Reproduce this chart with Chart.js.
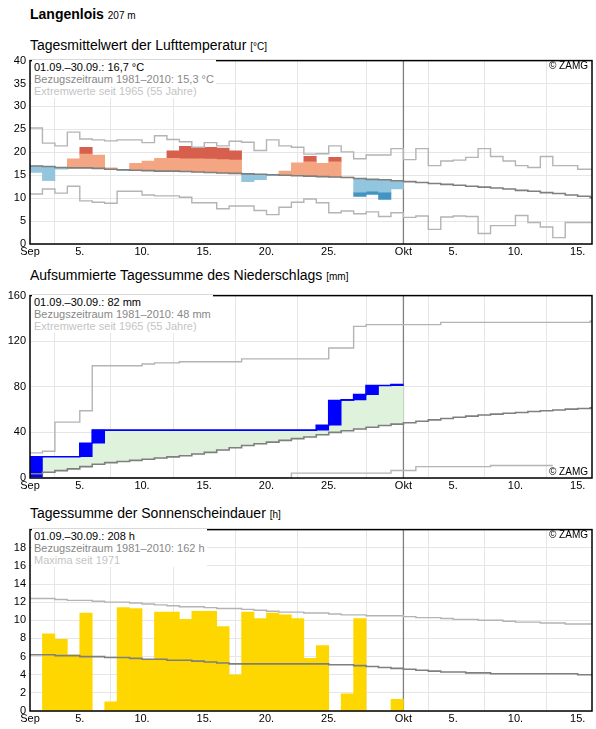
<!DOCTYPE html>
<html><head><meta charset="utf-8">
<script src="https://cdn.jsdelivr.net/npm/chart.js@4"></script>
<style>
body{margin:0;width:596px;height:729px;background:#fff;font-family:"Liberation Sans",Arial,sans-serif;position:relative;overflow:hidden}
.t{position:absolute;left:30px;font-size:14px;color:#000;white-space:nowrap}
.t small{font-size:10px}
.c{position:absolute;left:0;width:596px}
.lg{position:absolute;left:32px;background:#fff;font-size:11px;line-height:12px;padding:1px 2px;white-space:nowrap}
.z{position:absolute;font-size:10px;color:#000}
</style></head><body>
<div class="t" style="top:6px;font-weight:bold;font-size:14px">Langenlois <small style="font-weight:normal">207 m</small></div>
<div class="t" style="top:37px">Tagesmittelwert der Lufttemperatur <small>[°C]</small></div>
<div class="t" style="top:267px">Aufsummierte Tagessumme des Niederschlags <small>[mm]</small></div>
<div class="t" style="top:505px">Tagessumme der Sonnenscheindauer <small>[h]</small></div>
<div class="c" style="top:50px;height:212px"><canvas id="c1"></canvas></div>
<div class="c" style="top:285px;height:211px"><canvas id="c2"></canvas></div>
<div class="c" style="top:519px;height:210px"><canvas id="c3"></canvas></div>
<div class="lg" style="top:60px"><div>01.09.–30.09.: 16,7 °C</div><div style="color:#888">Bezugszeitraum 1981–2010: 15,3 °C</div><div style="color:#c4c4c4">Extremwerte seit 1965 (55 Jahre)</div></div>
<div class="lg" style="top:295px"><div>01.09.–30.09.: 82 mm</div><div style="color:#888">Bezugszeitraum 1981–2010: 48 mm</div><div style="color:#c4c4c4">Extremwerte seit 1965 (55 Jahre)</div></div>
<div class="lg" style="top:529px"><div>01.09.–30.09.: 208 h</div><div style="color:#888">Bezugszeitraum 1981–2010: 162 h</div><div style="color:#c4c4c4">Maxima seit 1971</div></div>
<div class="z" style="top:60px;right:8px">© ZAMG</div>
<div class="z" style="top:466px;right:8px">© ZAMG</div>
<div class="z" style="top:529px;right:8px">© ZAMG</div>
<script>
const xTickPos=[0,4,9,14,19,24,30,34,39,44];
const xTickLabels=['Sep','5.','10.','15.','20.','25.','Okt','5.','10.','15.'];
const monthBoundary=30;

const tempObs=[15.6,13.9,16.3,18.6,21.1,19.4,16.6,16.0,17.6,18.1,18.7,20.3,21.3,20.9,21.1,20.9,20.3,13.6,14.05,14.9,15.9,17.7,19.1,17.6,18.9,14.6,10.4,10.8,9.7,12.0];
const tempMean=[17.0,16.9,16.7,16.6,16.6,16.5,16.3,16.2,16.1,16.0,15.9,15.9,15.8,15.7,15.6,15.5,15.4,15.3,15.2,15.1,15.0,14.9,14.8,14.7,14.6,14.5,14.3,14.1,14.0,13.8,13.6,13.4,13.2,13.0,12.8,12.6,12.4,12.2,12.0,11.7,11.5,11.2,11.0,10.7,10.4,10.1];
const tempUpper=[20.0,19.9,19.7,19.6,19.6,19.5,19.3,19.2,19.1,19.0,18.9,18.7,18.6,18.6,18.5,18.4,18.3,18.2,18.1,18.0,17.9,17.9,17.9,17.8,17.9,17.8,17.6,17.4,17.3,17.1];
const tempLower=[14.0,14.0,13.8,13.6,13.5,13.4,13.3,13.2,13.1,13.0,12.9,12.8,12.7,12.6,12.5,12.4,12.3,12.2,12.1,12.0,11.9,11.8,11.7,11.6,11.5,11.4,11.3,11.5,11.3,11.1];
const tempMax=[25.3,22.0,21.4,24.4,22.9,22.7,22.5,22.7,22.7,22.1,23.6,22.8,22.3,21.1,22.1,21.4,22.4,22.2,20.4,22.7,21.4,21.1,19.6,19.7,21.4,20.1,18.6,19.4,19.4,20.8,18.4,20.8,17.1,18.1,18.3,18.9,20.8,19.1,18.1,17.1,16.7,19.1,17.1,17.1,16.3,16.3];
const tempMin=[10.9,12.0,11.1,12.6,9.4,9.1,8.9,11.5,11.5,10.7,10.5,10.5,10.2,9.0,9.0,7.7,8.3,8.3,7.3,6.4,8.0,9.1,9.8,9.0,6.8,7.2,6.6,7.0,6.0,6.8,5.8,6.1,3.2,5.9,6.1,6.0,2.3,4.0,4.0,6.2,4.7,3.7,1.4,4.7,4.7,4.7];

const precipDaily=[18.7,0,0,0,11.8,11.5,0,0,0,0,0,0,0,0,0,0,0,0,0,0,0,0,0,4.3,21.7,0.5,4.6,8.0,0,0.9];
const precipMean=[3.7,5.0,6.5,8.0,10.0,12.0,13.5,14.5,15.5,16.5,17.5,18.5,19.5,21,22.5,24.5,26.5,28.5,30,31.5,33,34.5,36,38,40,41.5,43,44.5,46,47.3,48.5,49.8,51,52.2,53.3,54.3,55.2,56,56.8,57.5,58.3,59,59.7,60.4,61,61.5];
const precipMax=[22,23.5,49,49,59,98.5,98.5,98.5,98.5,100,101,101,102,102,102,102,102,104.5,104.5,104.5,104.5,104.5,104.5,104.5,114,114,133,134.5,134.5,134.5,134.5,134.5,134.5,136.5,136.5,136.5,136.5,136.5,136.5,136.5,136.5,136.5,136.5,136.5,136.5,137.5];
const precipMin=[0,0,0,0,0,0,0,0,0,0,0,0,0,0,0,0,0,0,0,0,0,4.3,4.3,4.3,4.3,4.3,4.3,4.3,4.3,6.6,6.6,10,10,10,10,10,10,11,11,11,11,11];

const sunObs=[0,8.5,7.9,6.2,10.8,0,1.0,11.4,11.3,5.7,10.9,10.9,10.1,11.0,11.0,9.3,4.0,10.9,10.2,10.8,10.6,10.2,5.8,7.2,0,1.9,10.2,0,0,1.3];
const sunMean=[6.2,6.2,6.1,6.1,6.0,6.0,5.9,5.9,5.8,5.7,5.7,5.6,5.6,5.5,5.4,5.3,5.2,5.2,5.2,5.2,5.2,5.2,5.2,5.2,5.1,5.1,5.0,4.9,4.8,4.7,4.6,4.5,4.4,4.3,4.3,4.2,4.2,4.1,4.1,4.1,4.1,4.1,4.1,4.1,4.0,4.0];
const sunMax=[12.4,12.4,12.3,12.2,12.2,12.1,12.0,12.0,11.9,11.8,11.7,11.6,11.5,11.5,11.4,11.3,11.3,11.2,11.1,11.0,10.9,10.9,10.8,10.8,10.7,10.6,10.6,10.5,10.5,10.5,10.4,10.3,10.3,10.2,10.1,10.1,10.0,10.0,9.9,9.8,9.8,9.7,9.7,9.6,9.6,9.6];

Chart.defaults.font.family='"Liberation Sans", Arial, sans-serif';
Chart.defaults.font.size=11;
Chart.defaults.color='#000';

function steps(a){const p=a.map((v,i)=>({x:i,y:v}));p.push({x:a.length,y:a[a.length-1]});return p;}
function line(a,color,w){return {type:'line',data:steps(a),borderColor:color,borderWidth:w,pointRadius:0,stepped:true,fill:false,order:0};}
function bars(list,color){return {type:'bar',data:list,backgroundColor:color,borderWidth:0,barPercentage:1,categoryPercentage:1,grouped:false,order:5};}

const frame={id:'frame',
 beforeDatasetsDraw(c){const a=c.chartArea,x=c.ctx,px=c.scales.x.getPixelForValue(monthBoundary);x.save();x.strokeStyle='#808080';x.lineWidth=1.3;x.beginPath();x.moveTo(px,a.top);x.lineTo(px,a.bottom);x.stroke();x.restore();},
 afterDatasetsDraw(c){const a=c.chartArea,x=c.ctx;x.save();x.strokeStyle='#000';x.lineWidth=1.5;x.strokeRect(a.left,a.top,a.right-a.left,a.bottom-a.top);x.restore();}};

function opts(ymax,step,hideTop){
 return {responsive:true,maintainAspectRatio:false,animation:false,
  layout:{padding:{top:8,right:4,left:0,bottom:0}},
  plugins:{legend:{display:false},tooltip:{enabled:false}},
  scales:{
   x:{type:'linear',min:0,max:45.15,offset:false,
     afterBuildTicks:s=>{s.ticks=xTickPos.map(v=>({value:v}));},
     afterFit:s=>{s.height=18;},
     ticks:{autoSkip:false,maxRotation:0,padding:1,callback:(v)=>{const i=xTickPos.indexOf(v);return i>=0?xTickLabels[i]:'';}},
     grid:{color:'#e6e6e6',drawTicks:false},
     border:{display:false}},
   y:{min:0,max:ymax,
     afterFit:s=>{s.width=30;},
     ticks:{stepSize:step,padding:4,callback:v=>(hideTop&&v===ymax)?'':String(v)},
     grid:{color:'#e6e6e6',drawTicks:false},border:{display:false}}
  }};
}

// Temperature
const tLight=[],tDark=[],tLightC=[],tDarkC=[];
tempObs.forEach((v,i)=>{const m=tempMean[i],x=i+0.5;
 if(v>=m){tLight.push({x,y:[m,Math.min(v,tempUpper[i])]});tLightC.push('#f4a582');
   if(v>tempUpper[i]){tDark.push({x,y:[tempUpper[i],v]});tDarkC.push('#d6604d');}}
 else{tLight.push({x,y:[Math.max(v,tempLower[i]),m]});tLightC.push('#92c5de');
   if(v<tempLower[i]){tDark.push({x,y:[v,tempLower[i]]});tDarkC.push('#4393c3');}}
});
new Chart(document.getElementById('c1'),{data:{datasets:[
 bars(tLight,tLightC),bars(tDark,tDarkC),
 line(tempMax,'#b4b4b4',1.4),line(tempMin,'#b4b4b4',1.4),line(tempMean,'#7f7f7f',1.6)
]},options:opts(40,5,false),plugins:[frame]});

// Precipitation
const cum=[];precipDaily.reduce((s,v)=>{s+=v;cum.push(+s.toFixed(2));return s;},0);
const pGreen=cum.map((c,i)=>({x:i+0.5,y:[precipMean[i],c]}));
const pBlue=[];cum.forEach((c,i)=>{const prev=i?cum[i-1]:0;if(c-prev>0)pBlue.push({x:i+0.5,y:[prev,c]});});
const pb=bars(pBlue,'#0000ff');pb.order=4;
new Chart(document.getElementById('c2'),{data:{datasets:[
 bars(pGreen,'#dff2dc'),pb,
 line(precipMax,'#b4b4b4',1.4),line(precipMin,'#b4b4b4',1.4),line(precipMean,'#7f7f7f',1.6),
 Object.assign(line(cum,'#0000ff',1.6),{order:-1})
]},options:opts(160,40,false),plugins:[frame]});

// Sunshine
const sBars=sunObs.map((v,i)=>({x:i+0.5,y:v}));
new Chart(document.getElementById('c3'),{data:{datasets:[
 bars(sBars,'#ffd700'),
 line(sunMax,'#b4b4b4',1.4),line(sunMean,'#7f7f7f',1.6)
]},options:opts(20,2,true),plugins:[frame]});
</script>
</body></html>
